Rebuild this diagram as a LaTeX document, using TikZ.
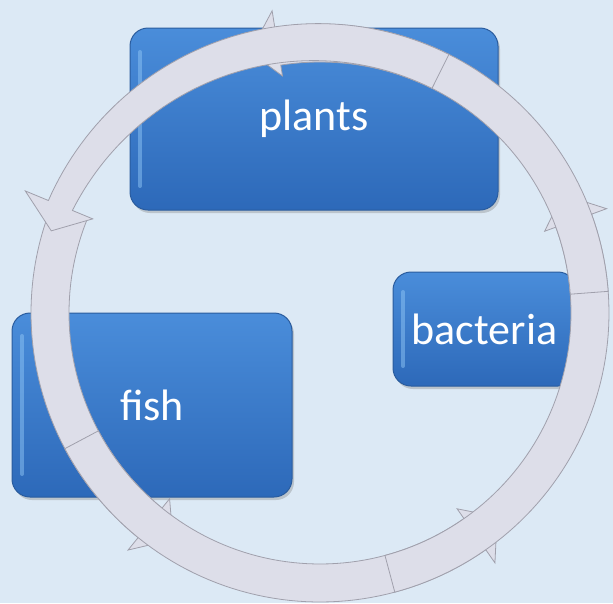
\documentclass[tikz,border=0pt]{standalone}
\usepackage{fontspec}
\setmainfont{Carlito}
\usetikzlibrary{shadows}
\definecolor{bg}{HTML}{DCE9F5}
\definecolor{boxtop}{HTML}{4A8DDA}
\definecolor{boxbot}{HTML}{2D69B9}
\definecolor{boxedge}{HTML}{2A5C9E}
\definecolor{boxhi}{HTML}{8EC4F4}
\definecolor{ringc}{HTML}{DDDEE9}
\definecolor{ringedge}{HTML}{A0A0AC}
\tikzset{
  cbox/.style={rounded corners=18pt, top color=boxtop, bottom color=boxbot,
    draw=boxedge, line width=1pt, text=white, inner sep=0pt,
    font=\fontsize{44}{50}\selectfont,
    drop shadow={shadow xshift=2pt, shadow yshift=-3pt, opacity=0.35}},
  bevel/.style={draw=boxhi, line width=4pt, opacity=0.5, line cap=round},
  seg/.style={fill=ringc, draw=ringedge, line width=0.8pt, line join=miter}
}
% #1 start angle, #2 barb angle, #3 tip angle, #4 r0, #5 r1, #6 w0, #7 w1, #8 outer barb r, #9 inner barb r
\newcommand{\ringseg}[9]{%
  \filldraw[seg]
    plot[domain=#1:#2, samples=60]
      ({320+(#4+(#5-#4)*((\x-(#1))/((#2)-(#1)))^2+#6+(#7-#6)*((\x-(#1))/((#2)-(#1)))^2)*cos(\x)},
       {313-(#4+(#5-#4)*((\x-(#1))/((#2)-(#1)))^2+#6+(#7-#6)*((\x-(#1))/((#2)-(#1)))^2)*sin(\x)})
    -- ({320+(#8)*cos(#2)},{313-(#8)*sin(#2)})
    -- ({320+(#5)*cos(#3)},{313-(#5)*sin(#3)})
    -- ({320+(#9)*cos(#2)},{313-(#9)*sin(#2)})
    -- plot[domain=#2:#1, samples=60]
      ({320+(#4+(#5-#4)*((\x-(#1))/((#2)-(#1)))^2-#6-(#7-#6)*((\x-(#1))/((#2)-(#1)))^2)*cos(\x)},
       {313-(#4+(#5-#4)*((\x-(#1))/((#2)-(#1)))^2-#6-(#7-#6)*((\x-(#1))/((#2)-(#1)))^2)*sin(\x)})
    -- cycle;}
\begin{document}
\begin{tikzpicture}[x=1pt, y=-1pt]
  \fill[bg] (0,0) rectangle (613,603);
  \useasboundingbox (0,0) rectangle (613,603);

  % boxes
  \node[cbox, minimum width=368pt, minimum height=182pt] (plants) at (314,119) {plants};
  \draw[bevel] (140,52) -- (140,186);
  \node[cbox, minimum width=183pt, minimum height=114pt] (bacteria) at (484.5,329) {bacteria};
  \draw[bevel] (403,292) -- (403,366);
  \node[cbox, minimum width=280pt, minimum height=184pt] (fish) at (152,405) {fish};
  \draw[bevel] (22,336) -- (22,474);

  % cycle ring (counter-clockwise arrows)
  \ringseg{158}{231}{237}{270}{270}{19}{19}{305}{239}
  \ringseg{208}{305}{311}{270}{270}{19}{19}{305}{239}
  \ringseg{285}{380}{386}{270}{270}{19}{19}{305}{239}
  \ringseg{364.3}{459}{465}{270}{270}{19}{19}{306}{240}
  \ringseg{423.5}{517.5}{523}{270}{281}{19}{13}{319}{246}
\end{tikzpicture}
\end{document}
